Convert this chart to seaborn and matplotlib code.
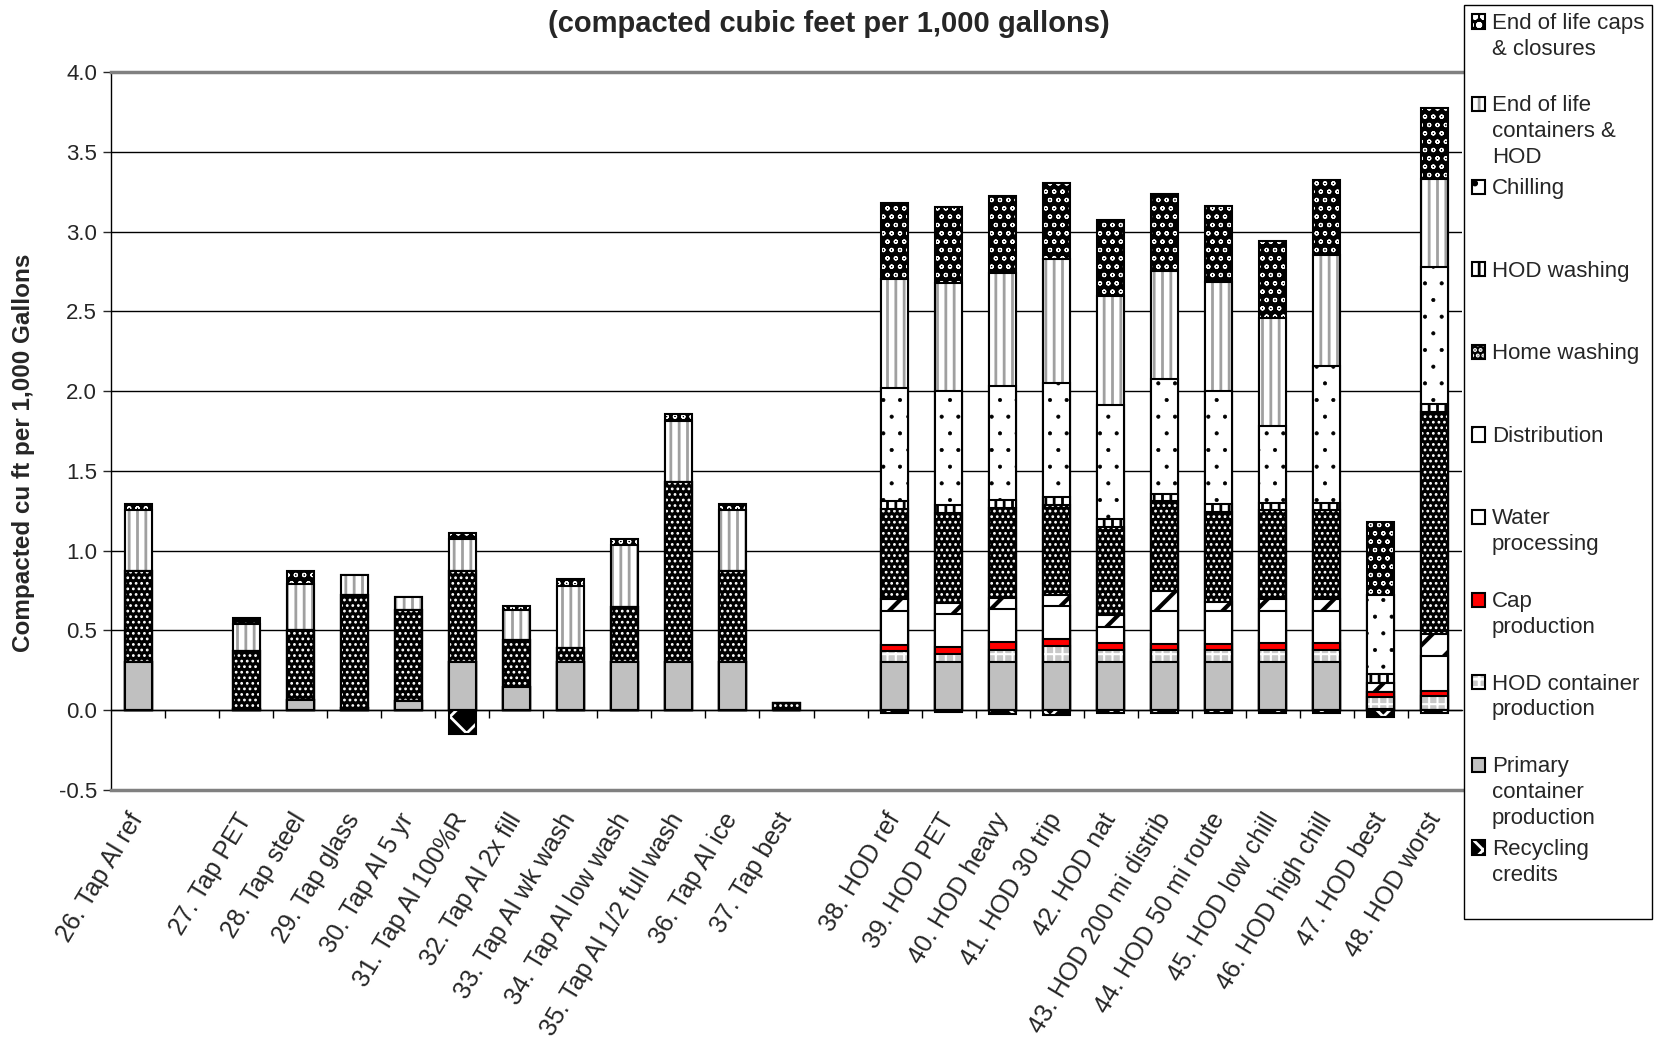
import numpy as np
import seaborn as sns
import matplotlib
matplotlib.use("Agg")
import matplotlib.pyplot as plt
from matplotlib.colors import to_rgba
from matplotlib.patches import Patch, Rectangle
from matplotlib.legend_handler import HandlerPatch
from matplotlib.ticker import FormatStrFormatter, MultipleLocator

nan = np.nan

# Scenario names; the blank entries separate the tap and HOD groups
categories = [
    "26. Tap Al ref", " ", "27. Tap PET", "28. Tap steel", "29. Tap glass",
    "30. Tap Al 5 yr", "31. Tap Al 100%R", "32. Tap Al 2x fill", "33. Tap Al wk wash",
    "34. Tap Al low wash", "35. Tap Al 1/2 full wash", "36. Tap Al ice", "37. Tap best", "  ",
    "38. HOD ref", "39. HOD PET", "40. HOD heavy", "41. HOD 30 trip", "42. HOD nat",
    "43. HOD 200 mi distrib", "44. HOD 50 mi route", "45. HOD low chill",
    "46. HOD high chill", "47. HOD best", "48. HOD worst",
]

# Compacted cu ft per 1,000 gallons, by life-cycle stage
recycling_credits = [0, nan, 0, 0, 0, 0, -0.15, 0, 0, 0, 0, 0, 0, nan,
                     -0.02, -0.01, -0.025, -0.03, -0.02, -0.02, -0.02, -0.02, -0.02, -0.045, -0.015]
primary_container = [0.30, nan, 0.01, 0.065, 0.015, 0.055, 0.30, 0.145, 0.30, 0.30, 0.30, 0.30, 0.0, nan,
                     0.30, 0.30, 0.30, 0.30, 0.30, 0.30, 0.30, 0.30, 0.30, 0.01, 0.0]
hod_container = [0, nan, 0, 0, 0, 0, 0, 0, 0, 0, 0, 0, 0, nan,
                 0.07, 0.05, 0.08, 0.10, 0.075, 0.075, 0.075, 0.075, 0.075, 0.07, 0.09]
cap_production = [0, nan, 0, 0, 0, 0, 0, 0, 0, 0, 0, 0, 0, nan,
                  0.04, 0.045, 0.045, 0.045, 0.045, 0.04, 0.04, 0.045, 0.045, 0.035, 0.03]
water_processing = [0, nan, 0, 0, 0, 0, 0, 0, 0, 0, 0, 0, 0, nan,
                    0.215, 0.205, 0.21, 0.21, 0.10, 0.21, 0.21, 0.205, 0.205, 0.0, 0.22]
distribution = [0, nan, 0, 0, 0, 0, 0, 0, 0, 0, 0, 0, 0, nan,
                0.075, 0.075, 0.07, 0.07, 0.075, 0.125, 0.055, 0.07, 0.07, 0.055, 0.14]
home_washing = [0.57, nan, 0.36, 0.435, 0.71, 0.575, 0.57, 0.295, 0.09, 0.35, 1.13, 0.57, 0.045, nan,
                0.56, 0.56, 0.565, 0.56, 0.555, 0.56, 0.56, 0.56, 0.56, 0.0, 1.39]
hod_washing = [0, nan, 0, 0, 0, 0, 0, 0, 0, 0, 0, 0, 0, nan,
               0.05, 0.05, 0.045, 0.05, 0.05, 0.045, 0.05, 0.045, 0.045, 0.06, 0.05]
chilling = [0, nan, 0, 0, 0, 0, 0, 0, 0, 0, 0, 0, 0, nan,
            0.71, 0.715, 0.715, 0.715, 0.71, 0.72, 0.71, 0.48, 0.86, 0.49, 0.86]
eol_containers = [0.385, nan, 0.17, 0.29, 0.12, 0.08, 0.20, 0.19, 0.39, 0.385, 0.385, 0.385, 0.0, nan,
                  0.685, 0.68, 0.71, 0.78, 0.685, 0.68, 0.685, 0.68, 0.69, 0.005, 0.55]
eol_caps = [0.04, nan, 0.04, 0.08, 0.0, 0.0, 0.04, 0.025, 0.04, 0.04, 0.04, 0.04, 0.0, nan,
            0.475, 0.475, 0.48, 0.475, 0.475, 0.48, 0.475, 0.48, 0.475, 0.455, 0.445]

series_labels = [
    "Recycling\ncredits", "Primary\ncontainer\nproduction", "HOD container\nproduction",
    "Cap\nproduction", "Water\nprocessing", "Distribution", "Home washing", "HOD washing",
    "Chilling", "End of life\ncontainers &\nHOD", "End of life caps\n& closures",
]

# Fill and hatch for each stage, bottom of the stack first
styles = [
    dict(face="black", hatch="x", hcolor="white", hlw=2.0),
    dict(face="#C0C0C0", hatch=None, hcolor="black", hlw=1.0),
    dict(face="#C8C8C8", hatch="++", hcolor="white", hlw=1.5),
    dict(face="#FF0000", hatch=None, hcolor="black", hlw=1.0),
    dict(face="white", hatch=None, hcolor="black", hlw=1.0),
    dict(face="white", hatch="/", hcolor="black", hlw=3.0),
    dict(face="black", hatch="...", hcolor="white", hlw=1.2),
    dict(face="white", hatch="||", hcolor="black", hlw=2.0),
    dict(face="white", hatch=".", hcolor="black", hlw=0.5),
    dict(face="white", hatch="||", hcolor="#A0A0A0", hlw=2.0),
    dict(face="black", hatch="oo", hcolor="white", hlw=0.8),
]


def apply_hatch(patches, st):
    if not st["hatch"]:
        return
    hc = to_rgba(st["hcolor"])
    for p in patches:
        p.set_hatch(st["hatch"])
        if hasattr(p, "set_hatchcolor"):
            p.set_hatchcolor(hc)
        else:
            p._hatch_color = hc
        if hasattr(p, "set_hatch_linewidth"):
            p.set_hatch_linewidth(st["hlw"])


sns.set_style("white")
plt.rcParams["font.family"] = ["Liberation Sans", "DejaVu Sans"]
plt.rcParams["axes.unicode_minus"] = False

fig = plt.figure(figsize=(16.57, 10.44), dpi=100)
ax = fig.add_axes([111 / 1657, 1 - 790 / 1044, 1351 / 1657, 718 / 1044])

positive = [primary_container, hod_container, cap_production, water_processing,
            distribution, home_washing, hod_washing, chilling, eol_containers, eol_caps]
tops = np.cumsum(np.array(positive, dtype=float), axis=0)

bar_kw = dict(order=categories, width=0.5, saturation=1, errorbar=None,
              edgecolor="black", linewidth=1.5, ax=ax)

# Stacked bars: cumulative totals drawn from the top stage down
for k in range(len(positive) - 1, -1, -1):
    st = styles[k + 1]
    plt.rcParams["hatch.linewidth"] = st["hlw"]
    n0 = len(ax.patches)
    sns.barplot(x=categories, y=tops[k], color=st["face"], **bar_kw)
    apply_hatch(ax.patches[n0:], st)

st = styles[0]
plt.rcParams["hatch.linewidth"] = st["hlw"]
n0 = len(ax.patches)
sns.barplot(x=categories, y=np.array(recycling_credits, dtype=float), color=st["face"], **bar_kw)
apply_hatch(ax.patches[n0:], st)

# Axes
ax.set_xlim(-0.5, len(categories) - 0.5)
ax.set_ylim(-0.5, 4.0)
ax.yaxis.set_major_locator(MultipleLocator(0.5))
ax.yaxis.set_major_formatter(FormatStrFormatter("%.1f"))
ax.set_axisbelow(True)
ax.yaxis.grid(True, color="black", linewidth=1)
ax.xaxis.grid(False)
for side in ("top", "bottom"):
    ax.spines[side].set_color("#808080")
    ax.spines[side].set_linewidth(2.5)
ax.spines["right"].set_visible(False)
ax.spines["left"].set_color("black")
ax.spines["left"].set_linewidth(1)
ax.tick_params(axis="y", left=True, direction="out", length=6, width=1, labelsize=16, pad=4)
ax.tick_params(axis="x", bottom=True, length=0, labelsize=18, pad=18)
ax.set_xlabel("")
ax.set_ylabel("Compacted cu ft per 1,000 Gallons", fontsize=17.5, fontweight="bold")
ax.yaxis.set_label_coords(-0.056, 0.469)
plt.setp(ax.get_xticklabels(), rotation=59, ha="right", va="center", rotation_mode="anchor")

# Category axis crossing at zero with tick marks between categories
zero_frac = (0 - (-0.5)) / (4.0 - (-0.5))
sec = ax.secondary_xaxis(zero_frac)
sec.set_xticks(np.arange(1, len(categories)) - 0.5)
sec.tick_params(axis="x", direction="out", length=6, width=1, labelbottom=False, color="black")
sec.spines["bottom"].set_color("black")
sec.spines["bottom"].set_linewidth(1)

# Title
fig.text(0.5, 1 - 24 / 1044, "(compacted cubic feet per 1,000 gallons)",
         ha="center", va="center", fontsize=21, fontweight="bold")

# Legend, top of stack first
def top_square(legend, orig_handle, xdescent, ydescent, width, height, fontsize):
    return Rectangle((-xdescent, -ydescent + 1.25 * fontsize), width, height)

handles, labels = [], []
for lab, st in zip(series_labels[::-1], styles[::-1]):
    h = Patch(facecolor=st["face"], edgecolor="black", linewidth=1.5)
    apply_hatch([h], st)
    handles.append(h)
    labels.append(lab + "\n" * (2 - lab.count("\n")))

leg = fig.legend(handles, labels, loc="upper left",
                 bbox_to_anchor=(1464 / 1657, 1 - 5 / 1044), fontsize=16,
                 frameon=True, fancybox=False, edgecolor="black", framealpha=1,
                 borderpad=0.35, borderaxespad=0, handlelength=0.6, handleheight=0.6,
                 handletextpad=0.3, labelspacing=0.45,
                 handler_map={Patch: HandlerPatch(patch_func=top_square)})
leg.get_frame().set_linewidth(1)
for t in leg.get_texts():
    t.set_linespacing(1.3)

fig.savefig("out.png", dpi=100)
